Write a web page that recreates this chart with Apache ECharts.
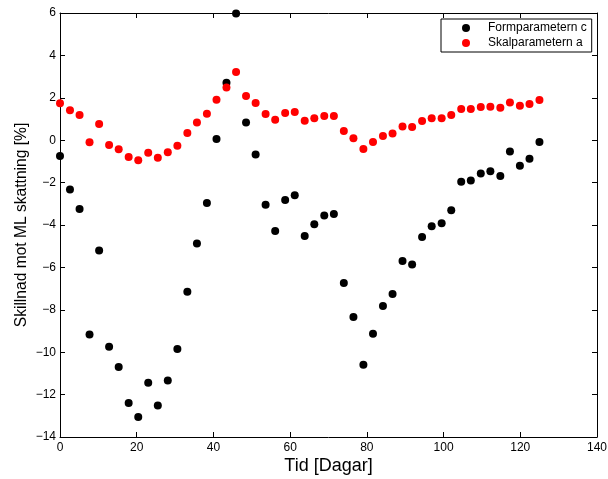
<!DOCTYPE html>
<html>
<head>
<meta charset="utf-8">
<script src="https://cdn.jsdelivr.net/npm/echarts@6/dist/echarts.min.js"></script>
<style>html,body{margin:0;padding:0;background:#fff}#c{width:608px;height:479px}</style>
</head>
<body>
<div id="c"></div>
<script>
var days = [0, 2.6, 5.1, 7.7, 10.2, 12.8, 15.3, 17.9, 20.4, 23.0, 25.5, 28.1, 30.6, 33.2, 35.7, 38.3, 40.8, 43.4, 45.9, 48.5, 51.0, 53.6, 56.1, 58.7, 61.2, 63.8, 66.3, 68.9, 71.4, 74.0, 76.5, 79.1, 81.6, 84.2, 86.7, 89.3, 91.8, 94.4, 96.9, 99.5, 102.0, 104.6, 107.1, 109.7, 112.2, 114.8, 117.3, 119.9, 122.4, 125.0];
var formC = [-0.75,-2.33,-3.25,-9.16,-5.20,-9.74,-10.70,-12.40,-13.06,-11.44,-12.51,-11.33,-9.85,-7.15,-4.87,-2.96,0.06,2.71,5.98,0.83,-0.68,-3.04,-4.28,-2.82,-2.60,-4.52,-3.97,-3.55,-3.48,-6.74,-8.34,-10.59,-9.13,-7.82,-7.26,-5.70,-5.86,-4.57,-4.06,-3.92,-3.31,-1.96,-1.90,-1.57,-1.47,-1.69,-0.53,-1.20,-0.87,-0.08];
var skalA = [1.74,1.41,1.19,-0.10,0.76,-0.23,-0.43,-0.79,-0.95,-0.59,-0.83,-0.57,-0.26,0.34,0.83,1.25,1.91,2.49,3.22,2.08,1.75,1.24,0.97,1.28,1.33,0.92,1.03,1.14,1.14,0.43,0.09,-0.42,-0.09,0.20,0.32,0.65,0.62,0.91,1.03,1.03,1.19,1.47,1.47,1.57,1.58,1.53,1.78,1.63,1.71,1.90];
var seriesNames = ['Formparametern c', 'Skalparametern a'];
var xTitle = 'Tid [Dagar]';
var yTitle = 'Skillnad mot ML skattning [%]';

function pairs(xs, ys) { return xs.map(function (x, i) { return [x, ys[i]]; }); }
function fmt(v) { return String(v).replace('-', '\u2212'); }

var FONT = '"Liberation Sans", Arial, sans-serif';
var axisCommon = {
  axisLine: { show: true, onZero: false, lineStyle: { color: '#000', width: 1 } },
  axisTick: { show: true, inside: true, length: 5, lineStyle: { color: '#000', width: 1 } },
  splitLine: { show: false }
};

var chart = echarts.init(document.getElementById('c'), null, { renderer: 'canvas' });
chart.setOption({
  animation: false,
  backgroundColor: '#fff',
  grid: { left: 60, right: 11, top: 13, bottom: 42, containLabel: false, outerBoundsMode: 'none' },
  legend: {
    orient: 'vertical', left: 441, top: 19,
    data: seriesNames,
    itemWidth: 8, itemHeight: 8, itemGap: 3,
    padding: [3, 5, 3, 21],
    borderColor: '#000', borderWidth: 1, borderRadius: 0,
    backgroundColor: '#fff',
    textStyle: { fontFamily: FONT, fontSize: 12, color: '#000', lineHeight: 12, padding: [0, 0, 0, 13] }
  },
  xAxis: [
    Object.assign({
      type: 'value', position: 'bottom', min: 0, max: 140, interval: 20,
      name: xTitle, nameLocation: 'middle', nameGap: 20, nameMoveOverlap: false,
      nameTextStyle: { fontFamily: FONT, fontSize: 18, color: '#000' },
      axisLabel: { fontFamily: FONT, fontSize: 12, color: '#000', margin: 5, formatter: fmt }
    }, axisCommon),
    Object.assign({
      type: 'value', position: 'top', min: 0, max: 140, interval: 20,
      axisLabel: { show: false }
    }, axisCommon)
  ],
  yAxis: [
    Object.assign({
      type: 'value', position: 'left', min: -14, max: 6, interval: 2,
      name: yTitle, nameLocation: 'middle', nameGap: 30, nameMoveOverlap: false,
      nameTextStyle: { fontFamily: FONT, fontSize: 15.6, color: '#000' },
      axisLabel: { fontFamily: FONT, fontSize: 12, color: '#000', margin: 4, formatter: fmt }
    }, axisCommon),
    Object.assign({
      type: 'value', position: 'right', min: -14, max: 6, interval: 2,
      axisLabel: { show: false }
    }, axisCommon)
  ],
  series: [
    { name: seriesNames[0], type: 'scatter', symbol: 'circle', symbolSize: 8, clip: false,
      itemStyle: { color: '#000', opacity: 1 }, data: pairs(days, formC) },
    { name: seriesNames[1], type: 'scatter', symbol: 'circle', symbolSize: 8, clip: false,
      itemStyle: { color: '#ff0000', opacity: 1 }, data: pairs(days, skalA) }
  ]
});
</script>
</body>
</html>
